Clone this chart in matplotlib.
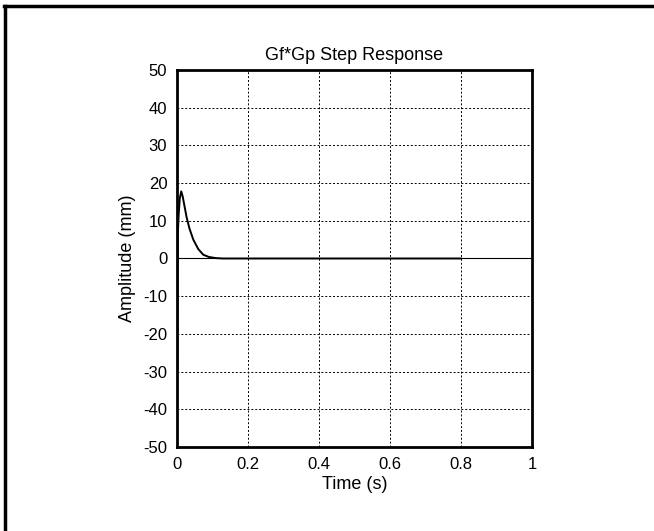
import matplotlib.pyplot as plt
from matplotlib.lines import Line2D

plt.rcParams['font.family'] = ['Liberation Sans', 'DejaVu Sans']
plt.rcParams['axes.unicode_minus'] = False

# step response samples
t = [0.0, 0.0004, 0.0008, 0.002, 0.005, 0.008, 0.012, 0.016, 0.02, 0.027, 0.035,
     0.046, 0.06, 0.074, 0.09, 0.11, 0.13, 0.2, 0.4, 0.6, 0.8]
y = [0.0, -30.0, -29.0, 6.0, 12.0, 16.0, 17.8, 16.5, 14.5, 11.0, 8.0,
     5.0, 2.5, 1.0, 0.4, 0.1, 0.0, 0.0, 0.0, 0.0, 0.0]
steady = [0.0, 0.0]
steady_t = [0.0, 1.0]

xticks = [0, 0.2, 0.4, 0.6, 0.8, 1]
xticklabels = ['0', '0.2', '0.4', '0.6', '0.8', '1']
yticks = [-50, -40, -30, -20, -10, 0, 10, 20, 30, 40, 50]

fig = plt.figure(figsize=(6.54, 5.31), dpi=100)
ax = fig.add_axes([0.2706, 0.1582, 0.5428, 0.7100])

ax.plot(steady_t, steady, color='black', linewidth=0.8)
ax.plot(t, y, color='black', linewidth=1.4)

ax.set_xlim(0, 1)
ax.set_ylim(-50, 50)
ax.set_xticks(xticks)
ax.set_xticklabels(xticklabels)
ax.set_yticks(yticks)
ax.tick_params(direction='in', length=0, labelsize=12, pad=7)
ax.grid(True, color='black', linestyle=(0, (2, 2)), linewidth=0.7)
for s in ax.spines.values():
    s.set_linewidth(2)

ax.set_title('Gf*Gp Step Response', fontsize=13, pad=7)
ax.set_xlabel('Time (s)', fontsize=13, labelpad=3)
ax.set_ylabel('Amplitude (mm)', fontsize=13, labelpad=5)

# frame lines along the top and left edge
fig.add_artist(Line2D([0.006, 1.0], [0.989, 0.989], color='black', linewidth=2.5,
                      transform=fig.transFigure))
fig.add_artist(Line2D([0.008, 0.008], [0.0, 0.989], color='black', linewidth=2.5,
                      transform=fig.transFigure))

fig.savefig('out.png', dpi=100)
